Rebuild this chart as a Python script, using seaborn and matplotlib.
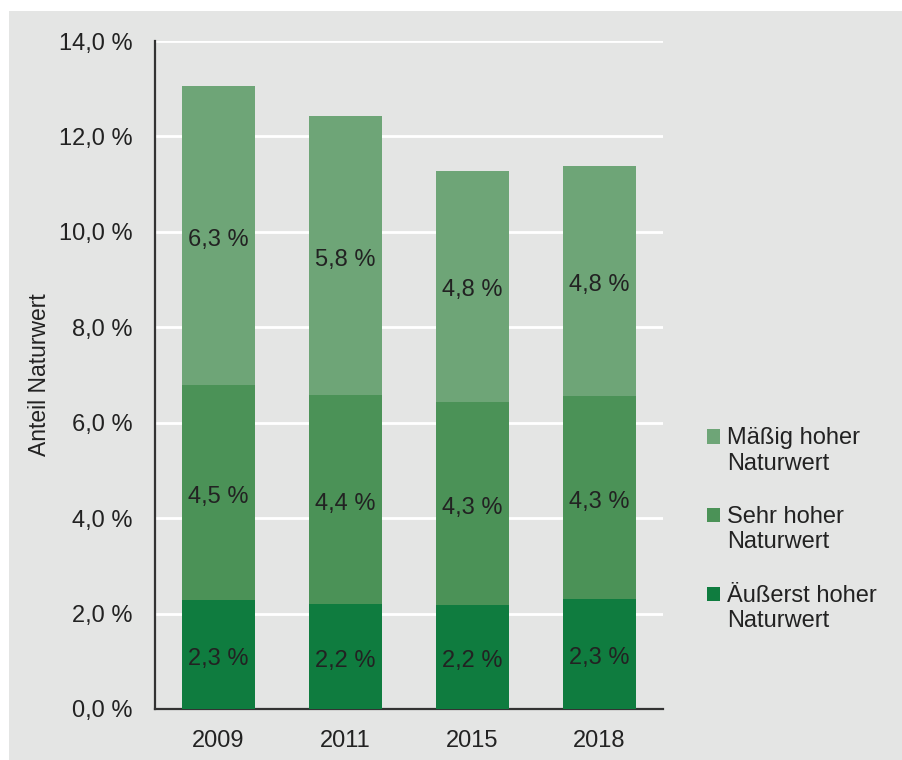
import matplotlib
matplotlib.use("Agg")
import matplotlib.pyplot as plt
from matplotlib.patches import Rectangle
from matplotlib.legend_handler import HandlerPatch
import pandas as pd
import seaborn as sns

years = ["2009", "2011", "2015", "2018"]
aeusserst = [2.28, 2.20, 2.18, 2.30]
sehr = [4.51, 4.38, 4.26, 4.26]
maessig = [6.27, 5.85, 4.84, 4.82]
series_names = ["Äußerst hoher\nNaturwert", "Sehr hoher\nNaturwert", "Mäßig hoher\nNaturwert"]
colors = ["#0f7c3f", "#4b9257", "#6ea577"]
yticks = [0, 2, 4, 6, 8, 10, 12, 14]

bg = "#e4e5e4"
txt = "#222222"
sns.set_theme(style="white")
plt.rcParams['font.family'] = ['Liberation Sans', 'DejaVu Sans']

df = pd.DataFrame({"year": years, series_names[0]: aeusserst,
                   series_names[1]: sehr, series_names[2]: maessig})

fig = plt.figure(figsize=(9.03, 7.60), dpi=100)
fig.patch.set_facecolor("white")
fig.patches.append(Rectangle((9 / 903, 0), 1, 1 - 11 / 760, transform=fig.transFigure,
                             facecolor=bg, edgecolor="none", zorder=-10))
ax = fig.add_axes([155 / 903, 1 - 709 / 760, 508 / 903, 668 / 760])
ax.set_facecolor(bg)

bottom = [0.0] * len(years)
handles = []
for name, col in zip(series_names, colors):
    vals = df[name].tolist()
    sns.barplot(x=df["year"], y=vals, bottom=bottom, color=col, width=0.575,
                saturation=1, linewidth=0, ax=ax, zorder=3)
    bars = ax.containers[-1]
    handles.append(bars)
    labels = [f"{v:.1f} %".replace(".", ",") for v in vals]
    texts = ax.bar_label(bars, labels=labels, label_type="center", fontsize=17, color=txt)
    for t in texts:
        t.xyann = (0, -3)
    bottom = [b + v for b, v in zip(bottom, vals)]

ax.set_ylim(0, 14)
ax.set_xlim(-0.5, 3.5)
ax.set_yticks(yticks)
ax.set_yticklabels([f"{t:.1f} %".replace(".", ",") for t in yticks], fontsize=17, color=txt)
ax.tick_params(axis="x", labelsize=17, labelcolor=txt, pad=15, length=0)
ax.tick_params(axis="y", pad=16, length=0)
ax.grid(axis="y", color="white", linewidth=2, zorder=0)
ax.set_axisbelow(True)
for s in ["top", "right"]:
    ax.spines[s].set_visible(False)
for s in ["left", "bottom"]:
    ax.spines[s].set_color("#333333")
    ax.spines[s].set_linewidth(1.6)
ax.set_xlabel("")
ax.set_ylabel("Anteil Naturwert", fontsize=16.5, color=txt)
ax.yaxis.set_label_coords(-0.204, 0.5)


def top_square(legend, orig_handle, xdescent, ydescent, width, height, fontsize):
    # put the square next to the first line of the two-line label
    return Rectangle((-xdescent, -ydescent + 0.62 * fontsize), width, height)


leg = ax.legend([h.patches[0] for h in handles[::-1]], series_names[::-1],
                loc="center left", bbox_to_anchor=(1.045, 0.2685), frameon=False,
                fontsize=17, handlelength=0.55, handleheight=0.55, handletextpad=0.3,
                labelspacing=1.32, labelcolor=txt,
                handler_map={matplotlib.patches.Rectangle: HandlerPatch(patch_func=top_square)})

fig.savefig("out.png", dpi=100, facecolor=fig.get_facecolor())
